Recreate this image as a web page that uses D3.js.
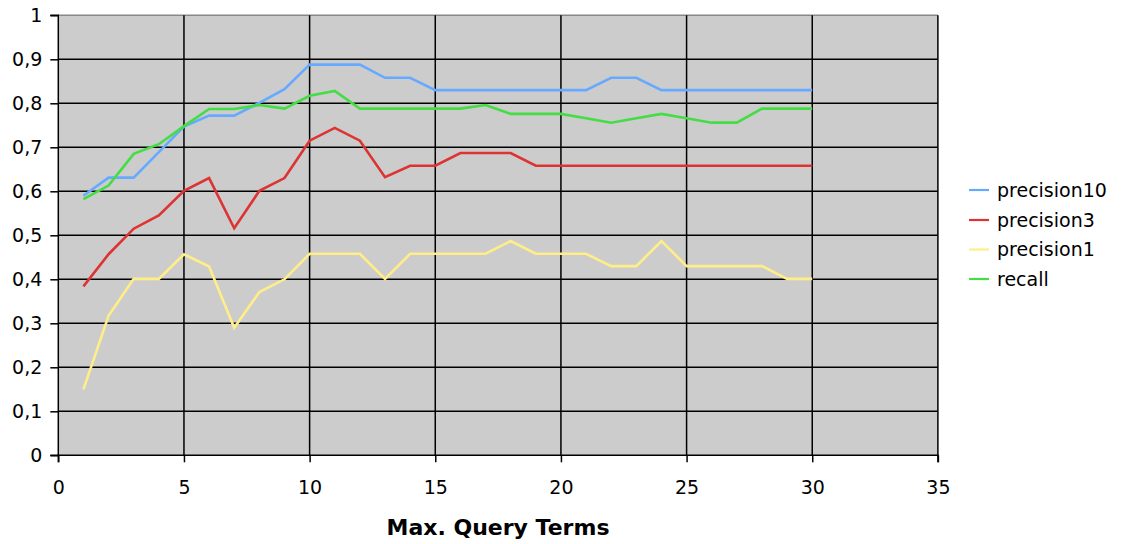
<!DOCTYPE html>
<html><head><meta charset="utf-8">
<script src="https://cdn.jsdelivr.net/npm/d3@7"></script>
<style>body{margin:0;background:#fff}svg{display:block}text{font-family:"DejaVu Sans",Verdana,sans-serif}</style>
</head><body><svg id="c" width="1125" height="544"></svg>
<script>
const xValues = d3.range(1, 31);
const precision10 = [0.590,0.631,0.631,0.689,0.747,0.772,0.772,0.801,0.832,0.888,0.888,0.888,0.858,0.858,0.830,0.830,0.830,0.830,0.830,0.830,0.830,0.858,0.858,0.830,0.830,0.830,0.830,0.830,0.830,0.830];
const precision3 = [0.384,0.457,0.515,0.545,0.601,0.630,0.516,0.601,0.630,0.715,0.744,0.715,0.632,0.658,0.658,0.687,0.687,0.687,0.658,0.658,0.658,0.658,0.658,0.658,0.658,0.658,0.658,0.658,0.658,0.658];
const precision1 = [0.150,0.317,0.401,0.401,0.457,0.429,0.290,0.371,0.400,0.458,0.458,0.458,0.401,0.458,0.458,0.458,0.458,0.487,0.458,0.458,0.458,0.430,0.430,0.487,0.430,0.430,0.430,0.430,0.401,0.401];
const recall = [0.582,0.613,0.685,0.707,0.748,0.787,0.787,0.796,0.788,0.817,0.828,0.788,0.788,0.788,0.788,0.788,0.796,0.776,0.776,0.776,0.766,0.756,0.766,0.776,0.766,0.756,0.756,0.788,0.788,0.788];
const seriesNames = ["precision10","precision3","precision1","recall"];
const seriesColors = ["#66aaff","#dd3333","#ffee88","#44dd44"];
const xTicks = [0,5,10,15,20,25,30,35];
const yTicks = [0,0.1,0.2,0.3,0.4,0.5,0.6,0.7,0.8,0.9,1];
const xTitle = "Max. Query Terms";

const allSeries = [precision10, precision3, precision1, recall];
const svg = d3.select("#c");
const L = 58.3, R = 937.9, T = 15.3, B = 455.3;
const x = d3.scaleLinear().domain([0,35]).range([L,R]);
const y = d3.scaleLinear().domain([0,1]).range([B,T]);

svg.append("rect").attr("x",L).attr("y",T).attr("width",R-L).attr("height",B-T).attr("fill","#cccccc");
svg.append("line").attr("x1",L).attr("x2",R).attr("y1",T).attr("y2",T).attr("stroke","#888").attr("stroke-width",1.5);
svg.append("g").selectAll("line").data(yTicks.slice(1,-1)).join("line")
  .attr("x1",L).attr("x2",R).attr("y1",d=>y(d)).attr("y2",d=>y(d)).attr("stroke","#000").attr("stroke-width",1.5);
svg.append("g").selectAll("line").data(xTicks.slice(1)).join("line")
  .attr("x1",d=>x(d)).attr("x2",d=>x(d)).attr("y1",T).attr("y2",B).attr("stroke","#000").attr("stroke-width",1.5);

const fmt = d => String(d).replace(".", ",");
const yAxis = d3.axisLeft(y).tickValues(yTicks).tickFormat(fmt).tickSize(8).tickPadding(8);
const gy = svg.append("g").attr("transform",`translate(${L},0)`).call(yAxis);
const xAxis = d3.axisBottom(x).tickValues(xTicks).tickFormat(d3.format("d")).tickSize(7).tickPadding(18);
const gx = svg.append("g").attr("transform",`translate(0,${B})`).call(xAxis);
[gx,gy].forEach(g=>{
  g.selectAll("path").attr("stroke","#000").attr("stroke-width",1.5);
  g.selectAll("line").attr("stroke","#000").attr("stroke-width",1.5);
  g.selectAll("text").attr("font-size",19).attr("fill","#000").attr("font-family","DejaVu Sans, Verdana, sans-serif");
});
gy.select(".domain").attr("d",`M-8,${T}H0V${B}H-8`);
gx.select(".domain").attr("d",`M${L},7V0H${R}V7`);

const line = d3.line().x((d,i)=>x(xValues[i])).y(d=>y(d));
allSeries.forEach((s,i)=>{
  svg.append("path").datum(s).attr("d",line).attr("fill","none")
    .attr("stroke",seriesColors[i]).attr("stroke-width",2.6).attr("stroke-linejoin","miter");
});

svg.append("text").attr("x",498).attr("y",534.5).attr("text-anchor","middle")
  .attr("font-size",22).attr("font-weight","bold").text(xTitle);

const legY = [190,220,249.5,279];
const lg = svg.append("g");
seriesNames.forEach((n,i)=>{
  lg.append("line").attr("x1",969).attr("x2",989).attr("y1",legY[i]).attr("y2",legY[i]).attr("stroke",seriesColors[i]).attr("stroke-width",2.2);
  lg.append("text").attr("x",997).attr("y",legY[i]).attr("dy","0.35em").attr("font-size",19).text(n);
});
</script></body></html>
